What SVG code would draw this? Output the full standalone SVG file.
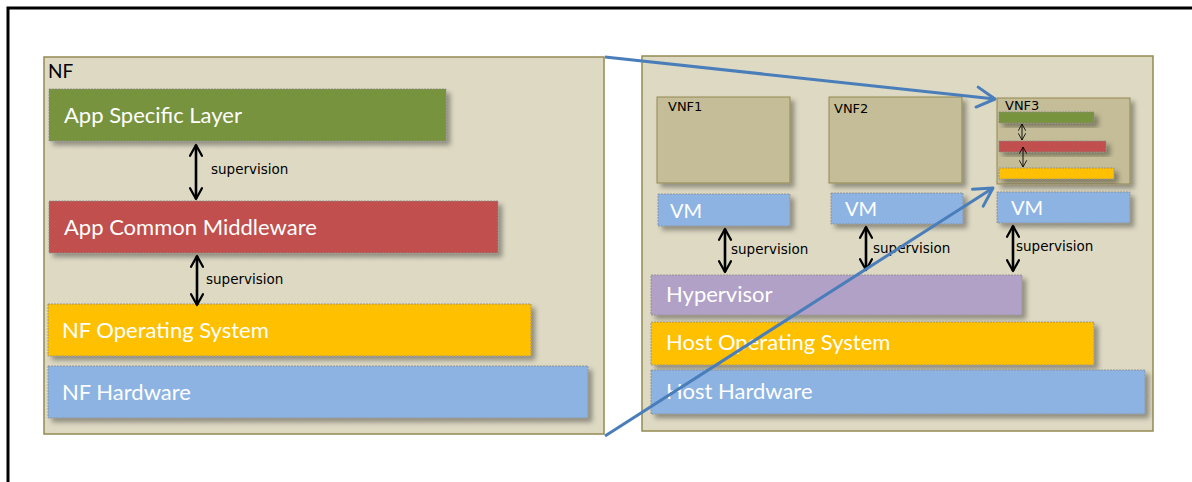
<svg xmlns="http://www.w3.org/2000/svg" width="1192" height="482" viewBox="0 0 1192 482">
  <defs>
    <filter id="shadow" x="-10%" y="-20%" width="130%" height="160%">
      <feDropShadow dx="4" dy="4" stdDeviation="2.5" flood-color="#000" flood-opacity="0.35"/>
    </filter>
    <marker id="blueHead" viewBox="0 0 12 12" refX="10" refY="6" markerWidth="8" markerHeight="8" orient="auto" markerUnits="strokeWidth">
      <path d="M1,1 L10,6 L1,11" fill="none" stroke="#4a7ebb" stroke-width="1.5" stroke-linecap="round" stroke-linejoin="round"/>
    </marker>
    <marker id="blackHead" viewBox="0 0 12 12" refX="10" refY="6" markerWidth="5.5" markerHeight="5.5" orient="auto-start-reverse" markerUnits="strokeWidth">
      <path d="M1,1 L10,6 L1,11" fill="none" stroke="#000" stroke-width="1.9" stroke-linecap="round" stroke-linejoin="round"/>
    </marker>
    <marker id="thinHead" viewBox="0 0 12 12" refX="10" refY="6" markerWidth="10" markerHeight="10" orient="auto-start-reverse" markerUnits="strokeWidth">
      <path d="M1,1 L10,6 L1,11" fill="none" stroke="#000" stroke-width="1.1"/>
    </marker>
  </defs>
  <style>
    .frame { fill: none; stroke: #000; stroke-width: 3; }
    .panel { fill: #ddd9c3; stroke: #948a54; stroke-width: 1.5; }
    .vnf { fill: #c4bd97; stroke: #938953; stroke-width: 1; filter: url(#shadow); }
    .layer { stroke: #8c8c8c; stroke-width: 0.8; stroke-dasharray: 2 1; filter: url(#shadow); }
    .green { fill: #77933c; }
    .red { fill: #c0504d; }
    .yellow { fill: #ffc000; }
    .blue { fill: #8db3e2; }
    .purple { fill: #b2a1c7; }
    .big { font-family: "Lato", "Liberation Sans", sans-serif; font-size: 22px; fill: #fff; }
    .vm { font-family: "Lato", "Liberation Sans", sans-serif; font-size: 20px; fill: #fff; }
    .title { font-family: "Lato", "Liberation Sans", sans-serif; font-size: 19px; fill: #000; }
    .small { font-family: "DejaVu Sans", "Liberation Sans", sans-serif; font-size: 13px; fill: #000; }
    .lbl { font-family: "DejaVu Sans", "Liberation Sans", sans-serif; font-size: 13.5px; fill: #000; }
    .sup { stroke: #000; stroke-width: 2.6; fill: none; marker-start: url(#blackHead); marker-end: url(#blackHead); }
    .supThin { stroke: #000; stroke-width: 0.9; fill: none; marker-start: url(#thinHead); marker-end: url(#thinHead); }
    .link { stroke: #4a7ebb; stroke-width: 3; fill: none; marker-end: url(#blueHead); }
  </style>

  <rect x="8" y="8" width="1200" height="490" fill="#fff" class="frame"/>

  <!-- Physical network function stack -->
  <g id="nf">
    <rect x="44" y="57" width="560" height="377" class="panel"/>
    <text x="48" y="78" class="title">NF</text>
  </g>
  <g id="app-specific-layer">
    <rect x="49" y="89" width="397" height="52" class="layer green"/>
    <text x="64" y="123" class="big">App Specific Layer</text>
  </g>
  <g id="app-common-middleware">
    <rect x="49" y="201" width="449" height="52" class="layer red"/>
    <text x="64" y="235" class="big">App Common Middleware</text>
  </g>
  <g id="nf-operating-system">
    <rect x="48" y="304" width="483" height="52" class="layer yellow"/>
    <text x="62" y="338" class="big">NF Operating System</text>
  </g>
  <g id="nf-hardware">
    <rect x="48" y="366" width="540" height="52" class="layer blue"/>
    <text x="62" y="400" class="big">NF Hardware</text>
  </g>

  <!-- Virtualised host -->
  <g id="host">
    <rect x="642" y="56" width="511" height="375" class="panel"/>
  </g>
  <g id="vnf1">
    <rect x="657" y="97" width="133" height="86" class="vnf"/>
    <text x="668" y="111" class="small">VNF1</text>
  </g>
  <g id="vnf2">
    <rect x="829" y="97" width="133" height="86" class="vnf"/>
    <text x="834" y="113" class="small">VNF2</text>
  </g>
  <g id="vnf3">
    <rect x="997" y="98" width="133" height="86" class="vnf"/>
    <text x="1005" y="110" class="small">VNF3</text>
    <rect x="999" y="112" width="95" height="11" class="layer green"/>
    <rect x="999" y="141" width="107" height="11" class="layer red"/>
    <rect x="999" y="168" width="115" height="11" class="layer yellow"/>
  </g>
  <g id="vm1">
    <rect x="658" y="194" width="132" height="32" class="layer blue"/>
    <text x="670" y="218" class="vm">VM</text>
  </g>
  <g id="vm2">
    <rect x="831" y="193" width="132" height="31" class="layer blue"/>
    <text x="845" y="216" class="vm">VM</text>
  </g>
  <g id="vm3">
    <rect x="997" y="192" width="133" height="31" class="layer blue"/>
    <text x="1011" y="215" class="vm">VM</text>
  </g>
  <g id="hypervisor">
    <rect x="651" y="275" width="371" height="40" class="layer purple"/>
    <text x="666" y="302" class="big">Hypervisor</text>
  </g>
  <g id="host-operating-system">
    <rect x="651" y="322" width="443" height="43" class="layer yellow"/>
    <text x="666" y="350" class="big">Host Operating System</text>
  </g>
  <g id="host-hardware">
    <rect x="651" y="370" width="494" height="44" class="layer blue"/>
    <text x="666" y="399" class="big">Host Hardware</text>
  </g>

  <!-- Supervision links and mapping connectors -->
  <g id="connectors">
    <line x1="196" y1="145" x2="196" y2="199" class="sup"/>
    <text x="211" y="174" class="lbl">supervision</text>
    <line x1="197" y1="256" x2="197" y2="305" class="sup"/>
    <text x="206" y="284" class="lbl">supervision</text>

    <line x1="725" y1="229" x2="725" y2="272" class="sup"/>
    <text x="731" y="254" class="lbl">supervision</text>
    <line x1="866" y1="227" x2="866" y2="270" class="sup"/>
    <text x="873" y="253" class="lbl">supervision</text>
    <line x1="1013" y1="226" x2="1013" y2="271" class="sup"/>
    <text x="1016" y="251" class="lbl">supervision</text>

    <line x1="1022" y1="124" x2="1022" y2="140" class="supThin"/>
    <line x1="1023" y1="147" x2="1023" y2="167" class="supThin"/>

    <line x1="605" y1="57" x2="995" y2="99" class="link"/>
    <line x1="605" y1="436" x2="993" y2="188" class="link"/>
  </g>
</svg>
